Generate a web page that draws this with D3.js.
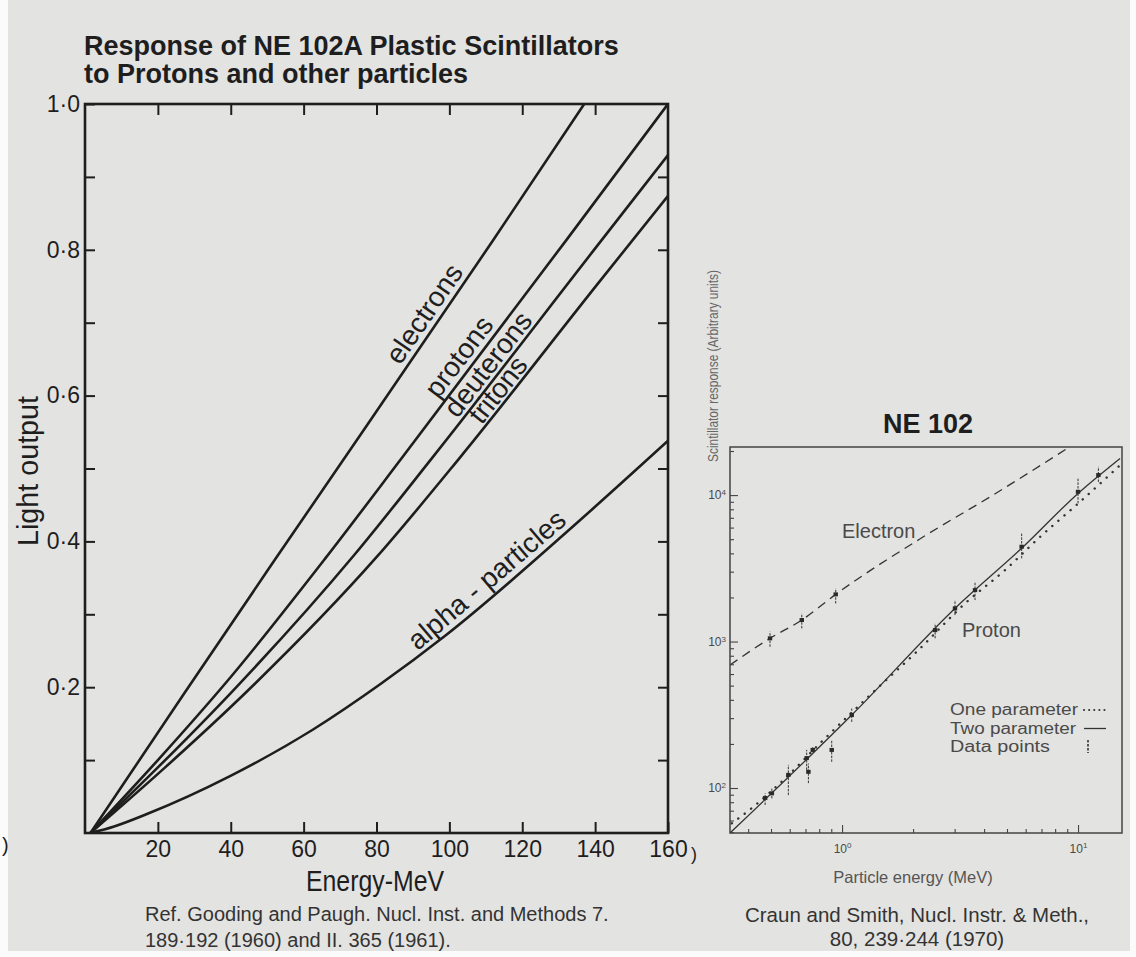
<!DOCTYPE html>
<html>
<head>
<meta charset="utf-8">
<script src="https://cdn.jsdelivr.net/npm/d3@7"></script>
<style>
body{margin:0;background:#fff;}
svg text{font-family:"Liberation Sans",Arial,sans-serif;}
svg text.narrow{font-family:"Liberation Sans Narrow","Liberation Sans",Arial,sans-serif;}
</style>
</head>
<body>
<svg id="chart" width="1136" height="957"></svg>
<script>
// ---- left chart: light output vs energy (MeV) ----
var electronsE = [1.5, 27.3, 52, 112, 137];
var electronsL = [0, 0.192, 0.374, 0.813, 1.0];
var protonsE = [1.5, 20, 40, 66, 87.2, 132.2, 160];
var protonsL = [0, 0.100, 0.214, 0.377, 0.516, 0.814, 1.0];
var deuteronsE = [1.5, 20, 40, 74, 95.5, 140.5, 160];
var deuteronsL = [0, 0.090, 0.192, 0.382, 0.516, 0.805, 0.93];
var tritonsE = [1.5, 22, 44, 80.3, 102.9, 141.3, 160];
var tritonsL = [0, 0.090, 0.192, 0.380, 0.515, 0.757, 0.874];
var alphaE = [1.5, 8, 17, 39.8, 62.6, 81, 99.2, 135.6, 160];
var alphaL = [0, 0.009, 0.026, 0.078, 0.142, 0.204, 0.272, 0.428, 0.538];

var xTicksL = [20, 40, 60, 80, 100, 120, 140, 160];
var yTicksL = [0.1, 0.2, 0.3, 0.4, 0.5, 0.6, 0.7, 0.8, 0.9, 1.0];

// ---- right chart: NE 102 response (log-log) ----
var electronFitE = [0.335, 0.495, 0.675, 0.94, 2.21, 4.24, 9.25];
var electronFitV = [692, 1052, 1403, 2100, 5190, 9730, 21400];
var twoParamE = [0.335, 1.099, 3.06, 5.86, 10.0, 15.07];
var twoParamV = [49.3, 315, 1730, 4440, 10270, 17800];
var oneParamE = [0.341, 0.421, 0.546, 0.834, 1.336, 2.07, 3.32, 4.91, 6.79, 10.2, 15.07];
var oneParamV = [57.4, 74.5, 108, 213, 442, 851, 1820, 3080, 5060, 9000, 16000];

var protonPtE = [0.472, 0.504, 0.592, 0.708, 0.72, 0.751, 0.904, 1.099, 2.48, 3.01, 3.66, 5.77, 10.0, 12.2];
var protonPtV = [85.5, 92, 123, 160, 129, 182, 182, 315, 1197, 1685, 2246, 4440, 10530, 13700];
var protonPtLo = [76.6, 85, 89.5, 133, 108, 175, 151, 283, 1052, 1517, 1920, 3700, 8780, 12300];
var protonPtHi = [92, 99, 144, 182, 147, 190, 213, 349, 1330, 1920, 2560, 5470, 13000, 15600];
var electronPtE = [0.495, 0.675, 0.94];
var electronPtV = [1052, 1403, 2100];
var electronPtLo = [921, 1230, 1820];
var electronPtHi = [1167, 1556, 2305];

var legendLabels = ["One parameter", "Two parameter", "Data points"];

var ink = "#1e1e1e", grey = "#4a4a4a";
var svg = d3.select("#chart");

svg.append("rect").attr("width", 1136).attr("height", 957).attr("fill", "#fbfbfb");
svg.append("rect").attr("x", 8).attr("width", 1122).attr("height", 951).attr("fill", "#e3e3e1");

// ================= left chart =================
var xL = d3.scaleLinear().domain([0, 160]).range([85, 668]);
var yL = d3.scaleLinear().domain([0, 1]).range([833, 104]);

var left = svg.append("g");

left.append("text").attr("x", 84).attr("y", 55).attr("font-size", 27).attr("font-weight", "bold")
    .attr("fill", ink).text("Response of NE 102A Plastic Scintillators");
left.append("text").attr("x", 84).attr("y", 83).attr("font-size", 27).attr("font-weight", "bold")
    .attr("fill", ink).text("to Protons and other particles");

function styleAxis(g, size) {
  g.attr("font-family", null).attr("font-size", null);
  g.select(".domain").remove();
  g.selectAll("line").attr("stroke", ink).attr("stroke-width", 2);
  g.selectAll("text").attr("font-size", size).attr("fill", ink);
}

var fmtL = function (d) {
  var k = Math.round(d * 10);
  return k % 2 == 0 ? d.toFixed(1).replace(".", "\u00b7") : "";
};

left.append("g").attr("transform", "translate(0,833)")
    .call(d3.axisBottom(xL).tickValues(xTicksL).tickSize(-11).tickPadding(8))
    .call(styleAxis, 23);
left.append("g").attr("transform", "translate(0,104)")
    .call(d3.axisTop(xL).tickValues(xTicksL.slice(0, -1)).tickSize(-11).tickFormat(""))
    .call(styleAxis, 23);
left.append("g").attr("transform", "translate(85,0)")
    .call(d3.axisLeft(yL).tickValues(yTicksL).tickSize(-10).tickPadding(5).tickFormat(fmtL))
    .call(styleAxis, 23);
left.append("g").attr("transform", "translate(668,0)")
    .call(d3.axisRight(yL).tickValues(yTicksL.slice(0, -1)).tickSize(-10).tickFormat(""))
    .call(styleAxis, 23);

left.append("clipPath").attr("id", "clipL").append("rect")
    .attr("x", 85).attr("y", 104).attr("width", 583).attr("height", 729);

var lineL = d3.line().x(function (d) { return xL(d[0]); }).y(function (d) { return yL(d[1]); })
    .curve(d3.curveMonotoneX);

var curves = [
  {e: electronsE, l: electronsL, name: "electrons", at: 96.6, off: 6},
  {e: protonsE, l: protonsL, name: "protons", at: 106, off: 6},
  {e: deuteronsE, l: deuteronsL, name: "deuterons", at: 113.5, off: 4},
  {e: tritonsE, l: tritonsL, name: "tritons", at: 116, off: 3},
  {e: alphaE, l: alphaL, name: "alpha - particles", at: 113, off: 6}
];

curves.forEach(function (c) {
  left.append("path").attr("d", lineL(d3.zip(c.e, c.l))).attr("clip-path", "url(#clipL)")
      .attr("fill", "none").attr("stroke", ink).attr("stroke-width", 2.6);
});

// labels sit along each curve
curves.forEach(function (c) {
  var i = d3.bisectRight(c.e, c.at) - 1;
  var x0 = xL(c.e[i]), y0 = yL(c.l[i]), x1 = xL(c.e[i + 1]), y1 = yL(c.l[i + 1]);
  var t = (xL(c.at) - x0) / (x1 - x0);
  var px = x0 + t * (x1 - x0), py = y0 + t * (y1 - y0);
  var dx = x1 - x0, dy = y1 - y0, len = Math.sqrt(dx * dx + dy * dy);
  var nx = dy / len, ny = -dx / len;
  var ang = Math.atan2(dy, dx) * 180 / Math.PI;
  left.append("text").attr("class", "narrow")
      .attr("transform", "translate(" + (px + nx * c.off) + "," + (py + ny * c.off) + ") rotate(" + ang + ")")
      .attr("text-anchor", "middle").attr("font-size", 28).attr("fill", ink).text(c.name);
});

left.append("rect").attr("x", 85).attr("y", 104).attr("width", 583).attr("height", 729)
    .attr("fill", "none").attr("stroke", ink).attr("stroke-width", 2.6);

left.append("text").attr("class", "narrow").attr("transform", "translate(38,471) rotate(-90)")
    .attr("text-anchor", "middle").attr("font-size", 30).attr("fill", ink)
    .attr("textLength", 150).attr("lengthAdjust", "spacingAndGlyphs").text("Light output");
left.append("text").attr("class", "narrow").attr("x", 375).attr("y", 891)
    .attr("text-anchor", "middle").attr("font-size", 29).attr("fill", ink)
    .attr("textLength", 138).attr("lengthAdjust", "spacingAndGlyphs").text("Energy-MeV");
left.append("text").attr("x", 145).attr("y", 921).attr("font-size", 20).attr("fill", "#333")
    .text("Ref. Gooding and Paugh. Nucl. Inst. and Methods 7.");
left.append("text").attr("x", 145).attr("y", 947).attr("font-size", 20).attr("fill", "#333")
    .text("189\u00b7192 (1960) and II. 365 (1961).");
left.append("text").attr("x", 2).attr("y", 852).attr("font-size", 20).attr("fill", ink).text(")");

// ================= right chart =================
var xR = d3.scaleLog().domain([0.335, 15.36]).range([730, 1122]);
var yR = d3.scaleLog().domain([49.3, 21300]).range([833, 447]);
var right = svg.append("g");

function isDecade(d) {
  var l = Math.log10(d);
  return Math.abs(l - Math.round(l)) < 1e-9;
}
function styleR(g) {
  g.attr("font-family", null).attr("font-size", null);
  g.select(".domain").remove();
  g.selectAll("line").attr("stroke", "#444").attr("stroke-width", 1.1);
  g.selectAll("text").attr("font-size", 12).attr("fill", grey);
}
function addExp(g) {
  g.selectAll(".tick text").append("tspan").attr("dy", "-0.55em").attr("font-size", 8)
      .text(function (d) { return Math.round(Math.log10(d)); });
}

var yMinor = yR.ticks().filter(function (d) { return !isDecade(d); });
var yMajor = yR.ticks().filter(isDecade);
var xMinor = xR.ticks().filter(function (d) { return !isDecade(d); });
var xMajor = xR.ticks().filter(isDecade);

right.append("g").attr("transform", "translate(730,0)")
    .call(d3.axisLeft(yR).tickValues(yMinor).tickSize(-4).tickFormat("")).call(styleR);
right.append("g").attr("transform", "translate(730,0)")
    .call(d3.axisLeft(yR).tickValues(yMajor).tickSize(-8).tickPadding(4).tickFormat(function () { return "10"; }))
    .call(styleR).call(addExp);
right.append("g").attr("transform", "translate(0,833)")
    .call(d3.axisBottom(xR).tickValues(xMinor).tickSize(-4).tickFormat("")).call(styleR);
right.append("g").attr("transform", "translate(0,833)")
    .call(d3.axisBottom(xR).tickValues(xMajor).tickSize(-8).tickPadding(11).tickFormat(function () { return "10"; }))
    .call(styleR).call(addExp);

right.append("clipPath").attr("id", "clipR").append("rect")
    .attr("x", 730).attr("y", 447).attr("width", 392).attr("height", 386);

var lineR = d3.line().x(function (d) { return xR(d[0]); }).y(function (d) { return yR(d[1]); })
    .curve(d3.curveMonotoneX);

right.append("path").attr("d", lineR(d3.zip(electronFitE, electronFitV))).attr("clip-path", "url(#clipR)")
    .attr("fill", "none").attr("stroke", "#333").attr("stroke-width", 1.3).attr("stroke-dasharray", "9,6");
right.append("path").attr("d", lineR(d3.zip(twoParamE, twoParamV))).attr("clip-path", "url(#clipR)")
    .attr("fill", "none").attr("stroke", "#333").attr("stroke-width", 1.3);
right.append("path").attr("d", lineR(d3.zip(oneParamE, oneParamV))).attr("clip-path", "url(#clipR)")
    .attr("fill", "none").attr("stroke", "#333").attr("stroke-width", 2.4)
    .attr("stroke-linecap", "round").attr("stroke-dasharray", "0.1,8");

function drawPoints(es, vs, lo, hi) {
  var pts = d3.range(es.length).map(function (i) { return {e: es[i], v: vs[i], lo: lo[i], hi: hi[i]}; });
  var g = right.append("g");
  g.selectAll(".bar").data(pts).enter().append("line")
      .attr("x1", function (d) { return xR(d.e); }).attr("x2", function (d) { return xR(d.e); })
      .attr("y1", function (d) { return yR(d.lo); }).attr("y2", function (d) { return yR(d.hi); })
      .attr("stroke", "#333").attr("stroke-width", 1).attr("stroke-dasharray", "2.5,1.2");
  g.selectAll(".pt").data(pts).enter().append("rect")
      .attr("x", function (d) { return xR(d.e) - 2.2; }).attr("y", function (d) { return yR(d.v) - 2; })
      .attr("width", 4.4).attr("height", 4).attr("fill", "#2a2a2a");
}
drawPoints(protonPtE, protonPtV, protonPtLo, protonPtHi);
drawPoints(electronPtE, electronPtV, electronPtLo, electronPtHi);

right.append("rect").attr("x", 730).attr("y", 447).attr("width", 392).attr("height", 386)
    .attr("fill", "none").attr("stroke", "#444").attr("stroke-width", 1.5);

right.append("text").attr("x", 928).attr("y", 433).attr("text-anchor", "middle")
    .attr("font-size", 27).attr("font-weight", "bold").attr("fill", ink).text("NE 102");
right.append("text").attr("x", 842).attr("y", 538).attr("font-size", 20).attr("fill", grey).text("Electron");
right.append("text").attr("x", 962).attr("y", 637).attr("font-size", 20).attr("fill", grey).text("Proton");

// legend
var legY = [715, 733.5, 752];
var legW = [128, 126, 100];
right.selectAll(".leg").data(legendLabels).enter().append("text")
    .attr("x", 950).attr("y", function (d, i) { return legY[i]; })
    .attr("font-size", 16).attr("fill", grey)
    .attr("textLength", function (d, i) { return legW[i]; }).attr("lengthAdjust", "spacingAndGlyphs")
    .text(function (d) { return d; });
right.append("line").attr("x1", 1084).attr("x2", 1106).attr("y1", 710).attr("y2", 710)
    .attr("stroke", "#333").attr("stroke-width", 2).attr("stroke-linecap", "round").attr("stroke-dasharray", "0.1,5");
right.append("line").attr("x1", 1084).attr("x2", 1106).attr("y1", 728.5).attr("y2", 728.5)
    .attr("stroke", "#333").attr("stroke-width", 1.3);
right.append("line").attr("x1", 1088).attr("x2", 1088).attr("y1", 740).attr("y2", 753)
    .attr("stroke", "#333").attr("stroke-width", 1.6).attr("stroke-dasharray", "2.5,1.5");

right.append("text").attr("class", "narrow").attr("transform", "translate(718,366) rotate(-90)")
    .attr("text-anchor", "middle").attr("font-size", 14).attr("fill", "#666")
    .attr("textLength", 192).attr("lengthAdjust", "spacingAndGlyphs")
    .text("Scintillator response (Arbitrary units)");
right.append("text").attr("x", 913).attr("y", 883).attr("text-anchor", "middle")
    .attr("font-size", 16.5).attr("fill", "#555").text("Particle energy (MeV)");
right.append("text").attr("x", 917).attr("y", 922).attr("text-anchor", "middle")
    .attr("font-size", 20.5).attr("fill", "#333").text("Craun and Smith, Nucl. Instr. & Meth.,");
right.append("text").attr("x", 917).attr("y", 946).attr("text-anchor", "middle")
    .attr("font-size", 20.5).attr("fill", "#333").text("80, 239\u00b7244 (1970)");
right.append("text").attr("x", 691).attr("y", 860).attr("font-size", 18).attr("fill", ink).text(")");
</script>
</body>
</html>
